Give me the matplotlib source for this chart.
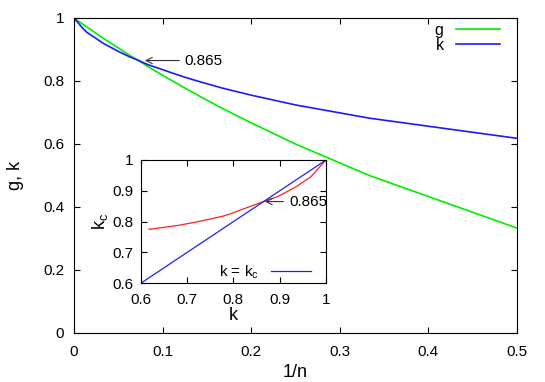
import numpy as np
import matplotlib
matplotlib.use("Agg")
from matplotlib import pyplot as plt

plt.rcParams['font.family'] = ['Liberation Sans', 'DejaVu Sans']
plt.rcParams['mathtext.fontset'] = 'custom'
plt.rcParams['mathtext.rm'] = 'Liberation Sans'
plt.rcParams['mathtext.it'] = 'Liberation Sans'

# main panel: g and k against 1/n (last point is n -> infinity)
n_vals = [2, 3, 4, 5, 6, 7, 8, 9, 10, 12, 14, 16, 20, 25, 30, 40, 50, 70, 100]
g_vals = [0.333, 0.500, 0.600, 0.667, 0.714, 0.750, 0.778, 0.800, 0.818,
          0.846, 0.867, 0.882, 0.905, 0.923, 0.935, 0.951, 0.961, 0.972, 0.980, 1.0]
k_vals = [0.618, 0.682, 0.724, 0.755, 0.778, 0.797, 0.812, 0.825, 0.836,
          0.852, 0.867, 0.877, 0.894, 0.909, 0.919, 0.935, 0.944, 0.955, 0.967, 1.0]

# inset: k_c against k
kc_vals = [0.775, 0.788, 0.800, 0.810, 0.818, 0.827, 0.836, 0.843, 0.849,
           0.858, 0.866, 0.872, 0.880, 0.892, 0.900, 0.913, 0.922, 0.933, 0.945, 1.0]
diag = [0.6, 1.0]

cross = 0.865

inv_n = [1.0 / n for n in n_vals] + [0.0]

fig = plt.figure(figsize=(5.45, 3.82), dpi=100)
ax1 = fig.add_axes([0.1358, 0.1283, 0.8128, 0.8246])

ax1.plot(inv_n, g_vals, c='#00ee00', lw=1.2, label='g')
ax1.plot(inv_n, k_vals, c='#1a1aff', lw=1.2, label='k')
ax1.set_xlim(0, 0.5)
ax1.set_ylim(0, 1)
ax1.set_xticks([0, 0.1, 0.2, 0.3, 0.4, 0.5])
ax1.set_xticklabels(['0', '0.1', '0.2', '0.3', '0.4', '0.5'])
ax1.set_yticks([0, 0.2, 0.4, 0.6, 0.8, 1.0])
ax1.set_yticklabels(['0', '0.2', '0.4', '0.6', '0.8', '1'])
ax1.tick_params(direction='in', top=True, right=True, length=4, labelsize=11)
ax1.tick_params(axis='x', pad=9)
ax1.tick_params(axis='y', pad=7)
ax1.set_xlabel('1/n', fontsize=13, labelpad=3)
ax1.set_ylabel('g, k', fontsize=13, labelpad=14)
ax1.annotate('0.865', xy=(0.080, cross), xytext=(0.125, cross),
             fontsize=11, va='center', ha='left',
             arrowprops=dict(arrowstyle='->', color='#333333', lw=0.8,
                             shrinkA=2, shrinkB=0))
ax1.legend(loc='upper right', frameon=False, markerfirst=False, fontsize=11.5,
           handlelength=2.7, handletextpad=0.8, labelspacing=0.0,
           borderaxespad=0.0, bbox_to_anchor=(0.975, 1.005))

ax2 = fig.add_axes([0.2582, 0.2584, 0.340, 0.3228])
ax2.plot(k_vals, kc_vals, c='#ff2020', lw=0.9)
ax2.plot(diag, diag, c='#2020ff', lw=0.9, label=r'k = k$_\mathrm{c}$')
ax2.set_xlim(0.6, 1)
ax2.set_ylim(0.6, 1)
ax2.set_xticks([0.6, 0.7, 0.8, 0.9, 1.0])
ax2.set_xticklabels(['0.6', '0.7', '0.8', '0.9', '1'])
ax2.set_yticks([0.6, 0.7, 0.8, 0.9, 1.0])
ax2.set_yticklabels(['0.6', '0.7', '0.8', '0.9', '1'])
ax2.tick_params(direction='in', top=True, right=True, length=4, labelsize=11)
ax2.tick_params(axis='x', pad=7)
ax2.tick_params(axis='y', pad=5)
ax2.set_xlabel('k', fontsize=13, labelpad=0)
ax2.set_ylabel(r'k$_\mathrm{c}$', fontsize=13, labelpad=2)
ax2.annotate('0.865', xy=(0.868, cross), xytext=(0.92, cross),
             fontsize=11, va='center', ha='left', annotation_clip=False,
             arrowprops=dict(arrowstyle='->', color='#333333', lw=0.8,
                             shrinkA=2, shrinkB=0))
ax2.legend(loc='lower right', frameon=False, markerfirst=False, fontsize=11,
           handlelength=2.6, handletextpad=0.8, borderaxespad=0.0,
           bbox_to_anchor=(0.95, -0.03))

fig.savefig('out.png', dpi=100)
